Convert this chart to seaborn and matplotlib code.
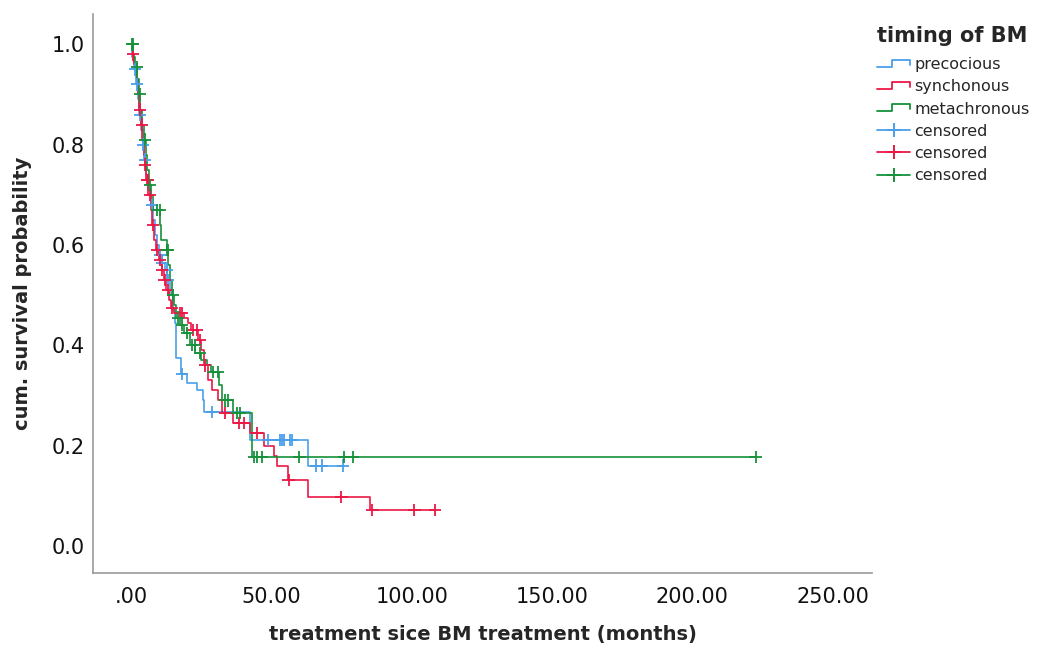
import numpy as np
import pandas as pd
import seaborn as sns
import matplotlib
matplotlib.use("Agg")
import matplotlib.pyplot as plt
from matplotlib.lines import Line2D
from matplotlib.legend_handler import HandlerBase

# Kaplan-Meier steps: event time (months) and survival after it
prec_time = [0.5, 1.0, 1.8, 2.5, 3.0, 3.6, 4.2, 4.8, 5.4, 6.2, 7.0, 7.8, 8.5, 9.3, 10.0, 11.0, 12.0,
             13.0, 14.0, 15.0, 15.8, 16.2, 18.0, 20.0, 23.4, 25.6, 26.0, 42.4, 63.1]
prec_surv = [0.975, 0.95, 0.92, 0.89, 0.86, 0.83, 0.80, 0.77, 0.74, 0.71, 0.68, 0.65, 0.62, 0.60, 0.58,
             0.565, 0.55, 0.53, 0.50, 0.47, 0.444, 0.374, 0.343, 0.325, 0.31, 0.29, 0.267, 0.211, 0.16]
prec_cens = [1.4, 2.1, 3.2, 4.3, 5.0, 7.5, 10.3, 11.0, 12.8, 13.2, 18.2, 29.0, 49.0, 53.0, 54.0, 54.5,
             56.5, 57.3, 66.0, 68.0, 75.6]

syn_time = [0.6, 1.2, 2.0, 2.6, 3.0, 3.5, 4.0, 4.5, 5.0, 5.5, 6.2, 7.0, 7.5, 8.3, 9.0, 10.0, 11.0, 11.8,
            12.6, 13.5, 14.3, 15.5, 19.0, 20.5, 21.5, 24.0, 25.0, 26.0, 27.5, 29.0, 31.0, 32.5, 36.2,
            42.4, 47.5, 51.0, 52.0, 55.8, 63.1, 85.0]
syn_surv = [0.98, 0.96, 0.93, 0.90, 0.87, 0.84, 0.81, 0.78, 0.76, 0.73, 0.70, 0.67, 0.64, 0.61, 0.59,
            0.57, 0.55, 0.53, 0.51, 0.49, 0.475, 0.464, 0.455, 0.445, 0.43, 0.41, 0.39, 0.36, 0.33, 0.31,
            0.29, 0.265, 0.245, 0.225, 0.20, 0.18, 0.16, 0.131, 0.098, 0.072]
syn_cens = [0.7, 3.2, 3.9, 5.0, 5.7, 6.1, 6.8, 7.8, 9.3, 10.3, 11.0, 12.0, 13.2, 14.6, 17.5, 18.2, 22.0,
            23.5, 24.6, 26.4, 33.5, 38.5, 40.3, 45.0, 56.2, 75.0, 86.0, 101.0, 108.4]

meta_time = [0.8, 1.5, 2.2, 2.8, 3.4, 4.0, 4.6, 5.2, 5.8, 6.5, 7.2, 8.0, 10.5, 10.8, 12.8, 13.3, 14.0,
             14.5, 15.2, 16.0, 17.5, 19.0, 21.0, 23.0, 25.0, 27.0, 28.5, 31.5, 32.5, 36.5, 43.0]
meta_surv = [0.975, 0.955, 0.93, 0.90, 0.87, 0.84, 0.81, 0.78, 0.75, 0.72, 0.70, 0.67, 0.64, 0.61, 0.59,
             0.56, 0.53, 0.50, 0.48, 0.455, 0.44, 0.425, 0.40, 0.385, 0.37, 0.36, 0.347, 0.32, 0.29,
             0.265, 0.177]
meta_cens = [0.3, 0.7, 2.1, 3.2, 5.0, 6.8, 9.3, 10.3, 12.8, 13.2, 15.0, 16.8, 18.2, 20.0, 21.8, 22.8,
             24.6, 29.2, 31.0, 33.5, 34.6, 37.8, 38.9, 44.0, 45.0, 46.7, 60.0, 76.0, 79.0, 222.5]

groups = ["precocious", "synchonous", "metachronous"]
colors = {"precocious": "#4a9fea", "synchonous": "#eb1846", "metachronous": "#17913a"}
x_ticks = [0, 50, 100, 150, 200, 250]
x_labels = [".00", "50.00", "100.00", "150.00", "200.00", "250.00"]
y_ticks = [0.0, 0.2, 0.4, 0.6, 0.8, 1.0]
y_labels = ["0.0", "0.2", "0.4", "0.6", "0.8", "1.0"]

data = {
    "precocious": (prec_time, prec_surv, prec_cens),
    "synchonous": (syn_time, syn_surv, syn_cens),
    "metachronous": (meta_time, meta_surv, meta_cens),
}

# build step paths and censor marks
rows, crows = [], []
for g in groups:
    t, s, c = data[g]
    tt = [0.0] + list(t) + [max(max(c), t[-1])]
    ss = [1.0] + list(s) + [s[-1]]
    for a, b in zip(tt, ss):
        rows.append((g, a, b))
    st = np.array([0.0] + list(t))
    sv = np.array([1.0] + list(s))
    for ct in c:
        idx = np.searchsorted(st, ct, side="right") - 1
        crows.append((g, ct, sv[idx]))
df = pd.DataFrame(rows, columns=["group", "time", "surv"])
cdf = pd.DataFrame(crows, columns=["group", "time", "surv"])

sns.set_style("white")
plt.rcParams["font.family"] = ["DejaVu Sans"]

fig = plt.figure(figsize=(10.38, 6.46), dpi=100)
ax = fig.add_axes([0.0896, 0.113, 0.7505, 0.865])

sns.lineplot(data=df, x="time", y="surv", hue="group", palette=colors, hue_order=groups,
             drawstyle="steps-post", estimator=None, sort=False, legend=False,
             linewidth=1.2, ax=ax)
sns.scatterplot(data=cdf, x="time", y="surv", hue="group", palette=colors, hue_order=groups,
                marker="+", s=80, linewidth=1.3, legend=False, ax=ax, zorder=3)

ax.set_xlim(-13.5, 264)
ax.set_ylim(-0.054, 1.06)
ax.set_xticks(x_ticks)
ax.set_xticklabels(x_labels)
ax.set_yticks(y_ticks)
ax.set_yticklabels(y_labels)
ax.tick_params(axis="both", length=0, labelsize=15, colors="#111111")
ax.tick_params(axis="x", pad=10)
ax.tick_params(axis="y", pad=6)
ax.set_xlabel("treatment sice BM treatment (months)", fontsize=14, fontweight="bold", labelpad=13)
ax.set_ylabel("cum. survival probability", fontsize=14, fontweight="bold", labelpad=14)
for side in ["top", "right"]:
    ax.spines[side].set_visible(False)
for side in ["left", "bottom"]:
    ax.spines[side].set_color("#999999")
    ax.spines[side].set_linewidth(1.2)


class StepHandler(HandlerBase):
    def create_artists(self, legend, orig, xd, yd, w, h, fontsize, trans):
        x0, y0 = -xd, -yd
        xs = [x0, x0 + w * 0.45, x0 + w * 0.45, x0 + w, x0 + w]
        ys = [y0 + h * 0.2, y0 + h * 0.2, y0 + h * 0.85, y0 + h * 0.85, y0 + h * 0.4]
        ln = Line2D(xs, ys, color=orig.get_color(), linewidth=1.3, transform=trans)
        return [ln]


handles = [Line2D([0], [0], color=colors[g]) for g in groups]
handles += [Line2D([0], [0], color=colors[g], marker="+", markersize=10, markeredgewidth=1.4,
                   linewidth=1.3) for g in groups]
labels = groups + ["censored"] * 3
hmap = {h: StepHandler() for h in handles[:3]}
leg = ax.legend(handles, labels, handler_map=hmap, title="timing of BM", loc="upper left",
                bbox_to_anchor=(0.998, 0.99), frameon=False, fontsize=11.5, handlelength=2.1,
                handletextpad=0.25, labelspacing=0.45, borderaxespad=0.0)
leg.get_title().set_fontweight("bold")
leg.get_title().set_fontsize(15)
leg._legend_box.align = "left"
leg._legend_box.sep = 8

fig.savefig("out.png", dpi=100)
